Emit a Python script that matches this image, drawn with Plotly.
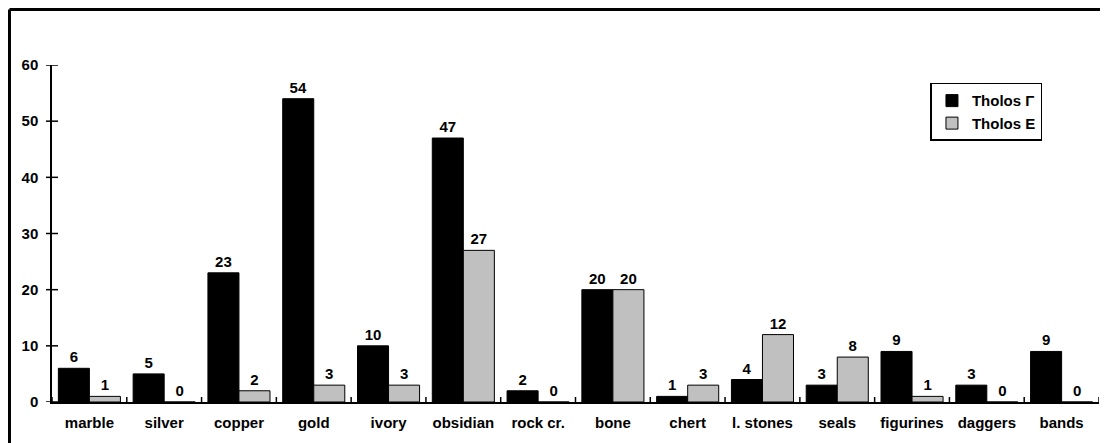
import plotly.graph_objects as go

categories = ["marble", "silver", "copper", "gold", "ivory", "obsidian", "rock cr.",
              "bone", "chert", "l. stones", "seals", "figurines", "daggers", "bands"]
tholos_gamma = [6, 5, 23, 54, 10, 47, 2, 20, 1, 4, 3, 9, 3, 9]
tholos_e = [1, 0, 2, 3, 3, 27, 0, 20, 3, 12, 8, 1, 0, 0]
y_ticks = [0, 10, 20, 30, 40, 50, 60]

FONT = dict(family="Liberation Sans, Arial, sans-serif", size=15, color="black", weight="bold")

fig = go.Figure()
fig.add_trace(go.Bar(
    x=categories, y=tholos_gamma, name="Tholos Γ",
    marker=dict(color="black", line=dict(color="black", width=1)),
    text=[str(v) for v in tholos_gamma], textposition="outside",
    textfont=FONT, cliponaxis=False,
))
fig.add_trace(go.Bar(
    x=categories, y=tholos_e, name="Tholos E",
    marker=dict(color="#c0c0c0", line=dict(color="black", width=1)),
    text=[str(v) for v in tholos_e], textposition="outside",
    textfont=FONT, cliponaxis=False,
))

shapes = []
# crossing ticks on x axis at category boundaries
for i in range(len(categories) + 1):
    shapes.append(dict(type="line", xref="x", yref="y", xsizemode="scaled",
                       ysizemode="pixel", yanchor=0,
                       x0=i - 0.5, x1=i - 0.5, y0=-5, y1=5,
                       line=dict(color="black", width=1.5)))
# crossing ticks on y axis
for t in y_ticks:
    shapes.append(dict(type="line", xref="paper", yref="y", xsizemode="pixel",
                       xanchor=0, x0=-6, x1=6, y0=t, y1=t,
                       line=dict(color="black", width=1.5)))
# outer chart-area frame (top and left edges)
shapes.append(dict(type="line", xref="paper", yref="paper",
                   x0=-0.0406, x1=1.2, y0=1.1647, y1=1.1647,
                   line=dict(color="black", width=3)))
shapes.append(dict(type="line", xref="paper", yref="paper",
                   x0=-0.0406, x1=-0.0406, y0=-0.3, y1=1.1647,
                   line=dict(color="black", width=3)))

fig.update_layout(
    width=1100, height=435,
    margin=dict(l=44, r=9, t=57, b=41),
    paper_bgcolor="white", plot_bgcolor="white",
    barmode="group", bargap=0.17, bargroupgap=0,
    font=FONT,
    showlegend=True,
    legend=dict(x=0.946, y=0.947, xanchor="right", yanchor="top",
                bordercolor="black", borderwidth=1.5, bgcolor="white",
                font=FONT, tracegroupgap=0, itemwidth=30),
    shapes=shapes,
    xaxis=dict(type="category", range=[-0.5, len(categories) - 0.5],
               showline=True, linecolor="black", linewidth=1.5,
               ticks="", showgrid=False, tickfont=FONT, ticklabelstandoff=6),
    yaxis=dict(range=[0, 60], tickvals=y_ticks, showline=True, linecolor="black",
               linewidth=1.5, ticks="", showgrid=False, zeroline=False,
               tickfont=FONT, ticklabelstandoff=9),
)

fig.write_html("out.html")
